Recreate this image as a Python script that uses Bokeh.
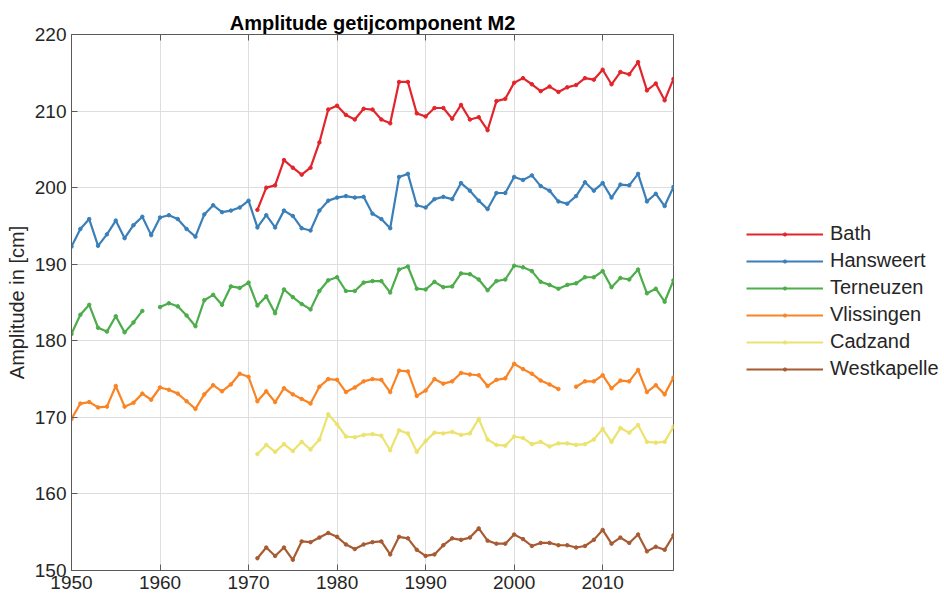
import math
from bokeh.plotting import figure
from bokeh.models import (Range1d, LinearAxis, FixedTicker, CustomJSTickFormatter,
                          Legend, LegendItem)
from bokeh.embed import file_html
from bokeh.resources import INLINE

nan = float("nan")

years_all = list(range(1950, 2019))
years_1971 = list(range(1971, 2019))

bath = [197.1, 200.0, 200.3, 203.6, 202.6, 201.7, 202.6, 205.9, 210.2, 210.7,
        209.5, 208.9, 210.3, 210.2, 208.9, 208.4, 213.8, 213.8, 209.7, 209.3,
        210.4, 210.4, 209.0, 210.8, 208.9, 209.2, 207.5, 211.3, 211.6, 213.7,
        214.3, 213.5, 212.6, 213.2, 212.5, 213.1, 213.4, 214.3, 214.1, 215.4,
        213.5, 215.1, 214.8, 216.4, 212.7, 213.6, 211.4, 214.2]

hansweert = [192.3, 194.6, 195.9, 192.4, 193.9, 195.7, 193.4, 195.1, 196.2, 193.8,
             196.1, 196.4, 195.9, 194.6, 193.6, 196.5, 197.7, 196.8, 197.0, 197.4,
             198.3, 194.8, 196.4, 194.8, 197.0, 196.3, 194.7, 194.4, 197.0, 198.3,
             198.7, 198.9, 198.7, 198.8, 196.6, 195.9, 194.7, 201.4, 201.8, 197.7,
             197.4, 198.5, 198.8, 198.5, 200.6, 199.6, 198.3, 197.2, 199.3, 199.3,
             201.4, 201.0, 201.6, 200.2, 199.6, 198.2, 197.9, 198.9, 200.7, 199.6,
             200.6, 198.7, 200.4, 200.3, 201.8, 198.2, 199.2, 197.6, 200.1]

terneuzen = [180.9, 183.4, 184.7, 181.7, 181.2, 183.2, 181.1, 182.4, 183.9, nan,
             184.4, 184.9, 184.5, 183.3, 181.9, 185.3, 186.0, 184.7, 187.1, 186.9,
             187.6, 184.6, 185.8, 183.6, 186.7, 185.7, 184.8, 184.1, 186.5, 187.9,
             188.3, 186.5, 186.5, 187.6, 187.8, 187.8, 186.3, 189.3, 189.7, 186.8,
             186.7, 187.7, 187.0, 187.1, 188.8, 188.7, 188.0, 186.6, 187.8, 188.0,
             189.8, 189.6, 189.1, 187.7, 187.3, 186.8, 187.3, 187.5, 188.3, 188.3,
             189.1, 187.0, 188.2, 188.0, 189.3, 186.2, 186.8, 185.1, 187.9]

vlissingen = [169.8, 171.8, 172.0, 171.3, 171.4, 174.1, 171.4, 171.9, 173.1, 172.3,
              173.9, 173.6, 173.1, 172.1, 171.1, 173.0, 174.2, 173.4, 174.3, 175.7,
              175.3, 172.1, 173.4, 172.0, 173.8, 173.0, 172.4, 171.8, 174.0, 175.0,
              174.9, 173.3, 173.9, 174.7, 175.0, 174.9, 173.3, 176.1, 176.0, 172.8,
              173.5, 175.0, 174.4, 174.7, 175.8, 175.6, 175.5, 174.1, 174.9, 175.1,
              177.0, 176.3, 175.7, 174.8, 174.3, 173.7, nan, 174.0, 174.7, 174.7,
              175.5, 173.8, 174.8, 174.7, 176.2, 173.3, 174.2, 173.0, 175.2]

cadzand = [165.2, 166.4, 165.5, 166.5, 165.6, 166.8, 165.8, 167.1, 170.4, 169.1,
           167.5, 167.4, 167.7, 167.8, 167.6, 165.7, 168.3, 167.9, 165.5, 166.9,
           168.0, 167.9, 168.1, 167.7, 167.9, 169.8, 167.1, 166.4, 166.3, 167.5,
           167.3, 166.5, 166.8, 166.2, 166.6, 166.6, 166.4, 166.5, 167.1, 168.5,
           166.8, 168.6, 168.0, 169.0, 166.8, 166.7, 166.8, 168.8]

westkapelle = [151.6, 153.0, 151.9, 153.0, 151.4, 153.8, 153.7, 154.3, 154.9, 154.4,
               153.4, 152.8, 153.4, 153.7, 153.8, 152.1, 154.4, 154.2, 152.7, 151.9,
               152.1, 153.3, 154.2, 154.0, 154.3, 155.5, 153.9, 153.5, 153.5, 154.7,
               154.1, 153.2, 153.6, 153.6, 153.3, 153.3, 153.0, 153.2, 154.0, 155.3,
               153.5, 154.3, 153.6, 154.7, 152.5, 153.1, 152.7, 154.6]

x_ticks = [1950, 1960, 1970, 1980, 1990, 2000, 2010]
y_ticks = [150, 160, 170, 180, 190, 200, 210, 220]

series = [
    ("Bath", years_1971, bath, "#e3242b"),
    ("Hansweert", years_all, hansweert, "#3b7fb9"),
    ("Terneuzen", years_all, terneuzen, "#4cad4a"),
    ("Vlissingen", years_all, vlissingen, "#fa8423"),
    ("Cadzand", years_1971, cadzand, "#ece36f"),
    ("Westkapelle", years_1971, westkapelle, "#a85b33"),
]

FONT = "Liberation Sans"
TXT = "#262626"
AX = "#5a5a5a"

p = figure(frame_width=602, frame_height=536, output_backend="svg", toolbar_location=None,
           x_range=Range1d(1950, 2018), y_range=Range1d(150, 220),
           title="Amplitude getijcomponent M2")
p.min_border_left = 71
p.min_border_right = 267
p.min_border_top = 34
p.min_border_bottom = 27

p.title.align = "center"
p.title.text_font = FONT
p.title.text_font_size = "20px"
p.title.text_font_style = "bold"
p.title.text_color = "#000000"
p.title.standoff = 2
p.title.offset = 0

p.outline_line_color = AX
p.outline_line_alpha = 1.0

for ax in (p.xaxis[0], p.yaxis[0]):
    ax.major_label_text_font = FONT
    ax.major_label_text_font_size = "19px"
    ax.major_label_text_color = TXT
    ax.axis_line_color = AX
    ax.major_tick_line_color = AX
    ax.major_tick_in = 6
    ax.major_tick_out = 0
    ax.minor_tick_line_color = None
    ax.axis_label_text_font = FONT
    ax.axis_label_text_font_size = "20px"
    ax.axis_label_text_font_style = "normal"
    ax.axis_label_text_color = TXT

p.xaxis[0].ticker = FixedTicker(ticks=x_ticks)
p.yaxis[0].ticker = FixedTicker(ticks=y_ticks)
p.xaxis[0].major_label_standoff = 5
p.yaxis[0].major_label_standoff = 5
p.yaxis[0].axis_label = "Amplitude in [cm]"
p.yaxis[0].axis_label_standoff = 4

empty = CustomJSTickFormatter(code="return '';")
top_ax = LinearAxis(ticker=FixedTicker(ticks=x_ticks), formatter=empty,
                    major_tick_in=6, major_tick_out=0, major_label_standoff=0,
                    axis_line_color=AX, major_tick_line_color=AX,
                    minor_tick_line_color=None, major_label_text_font_size="1px")
p.add_layout(top_ax, "above")

p.xgrid.ticker = FixedTicker(ticks=x_ticks)
p.ygrid.ticker = FixedTicker(ticks=y_ticks)
p.xgrid.grid_line_color = "#dedede"
p.ygrid.grid_line_color = "#dedede"
p.xgrid.grid_line_width = 1
p.ygrid.grid_line_width = 1

items = []
for name, xs, ys, col in series:
    r1 = p.line(xs, ys, line_color=col, line_width=2.2)
    xs_ok = [x for x, y in zip(xs, ys) if not math.isnan(y)]
    ys_ok = [y for y in ys if not math.isnan(y)]
    r2 = p.scatter(xs_ok, ys_ok, size=3.5, marker="circle", fill_color=col, line_color=col)
    items.append(LegendItem(label=name, renderers=[r1, r2]))

legend = Legend(items=items, location=(73, 188))
legend.label_text_font = FONT
legend.label_text_font_size = "20px"
legend.label_text_color = TXT
legend.glyph_width = 77
legend.glyph_height = 8
legend.label_height = 27
legend.label_standoff = 7
legend.spacing = 0
legend.padding = 0
legend.margin = 0
legend.border_line_color = None
legend.background_fill_alpha = 0
p.add_layout(legend, "right")

open("out.html", "w").write(file_html(p, INLINE))
